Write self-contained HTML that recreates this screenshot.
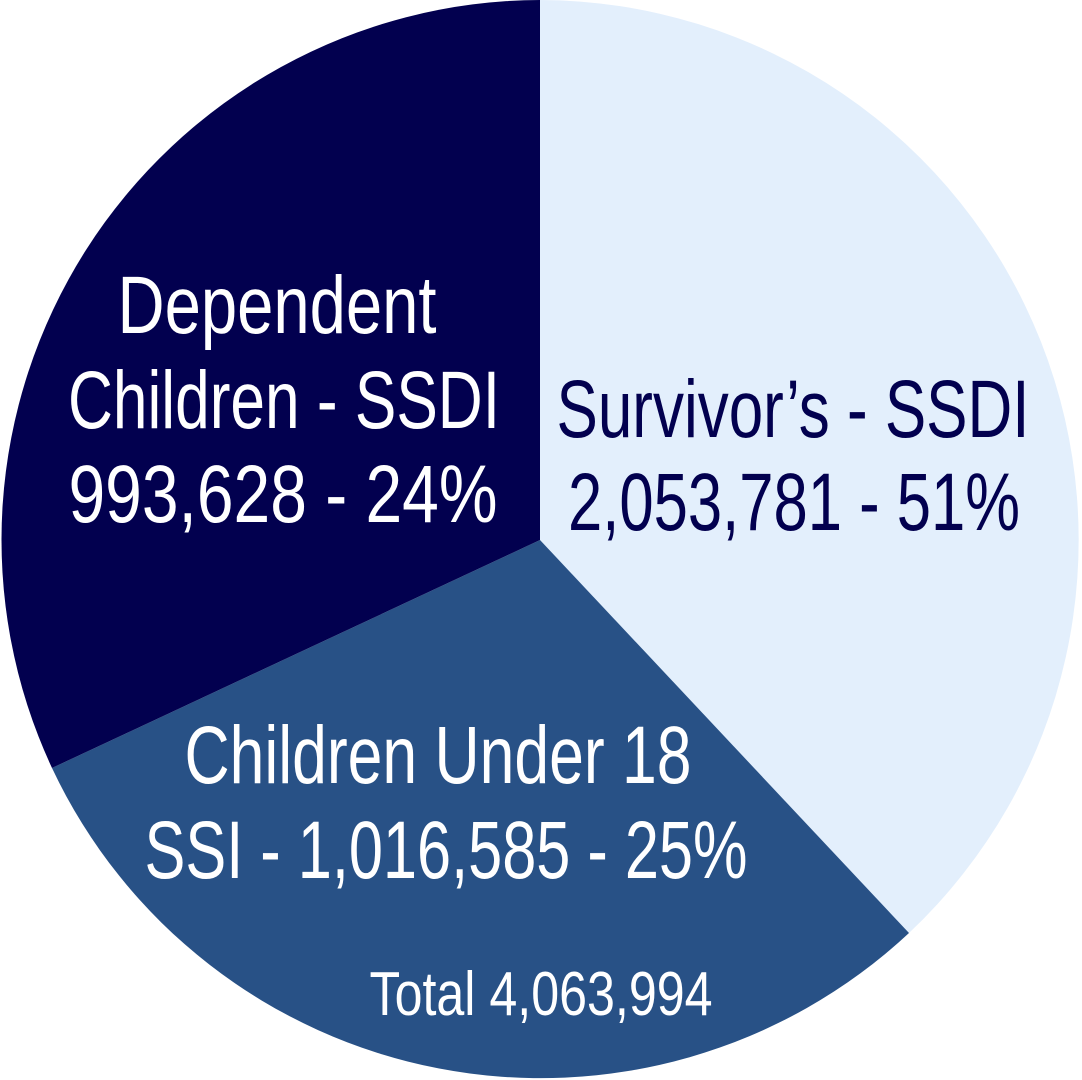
<!DOCTYPE html>
<html><head><style>html,body{margin:0;padding:0;background:#fff;}svg{display:block}</style></head>
<body>
<svg width="1082" height="1080" viewBox="0 0 1082 1080" xmlns="http://www.w3.org/2000/svg">
<path d="M540,540 L540,0 A540,540 0 0 1 909,933 Z" fill="#e3effc"/>
<path d="M540,540 L909,933 A540,540 0 0 1 52,768 Z" fill="#285186"/>
<path d="M540,540 L52,768 A540,540 0 0 1 540,0 Z" fill="#02004f"/>
<g font-family="Liberation Sans, sans-serif" font-size="82" fill="#fff" text-anchor="middle">
<text x="277" y="333" textLength="319" lengthAdjust="spacingAndGlyphs">Dependent</text>
<text x="284" y="428" textLength="432" lengthAdjust="spacingAndGlyphs">Children - SSDI</text>
<text x="283" y="522" textLength="429" lengthAdjust="spacingAndGlyphs">993,628 - 24%</text>
<text x="438" y="783" textLength="507" lengthAdjust="spacingAndGlyphs">Children Under 18</text>
<text x="446" y="878" textLength="603" lengthAdjust="spacingAndGlyphs">SSI - 1,016,585 - 25%</text>
<text x="541" y="1015" font-size="62" textLength="343" lengthAdjust="spacingAndGlyphs">Total 4,063,994</text>
</g>
<g font-family="Liberation Sans, sans-serif" font-size="82" fill="#02004f" text-anchor="middle">
<text x="793" y="437" textLength="473" lengthAdjust="spacingAndGlyphs">Survivor’s - SSDI</text>
<text x="794" y="530" textLength="452" lengthAdjust="spacingAndGlyphs">2,053,781 - 51%</text>
</g>
</svg>
</body></html>
